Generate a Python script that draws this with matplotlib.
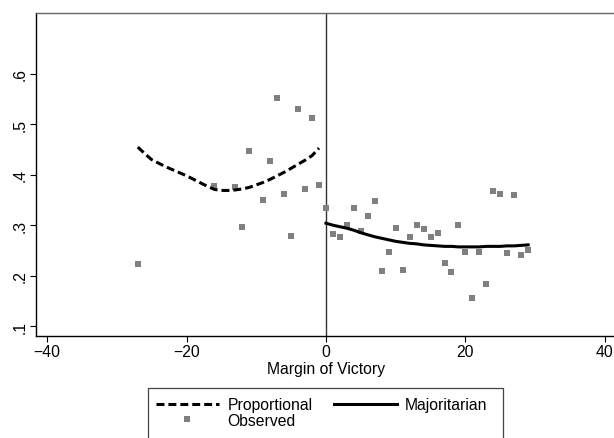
import numpy as np
import matplotlib.pyplot as plt
from matplotlib.patches import Rectangle

# observed bin means
obs_x = [-27, -16, -13, -12, -11, -9, -8, -7, -6, -5, -4, -3, -2, -1,
         0, 1, 2, 3, 4, 5, 6, 7, 8, 9, 10, 11, 12, 13, 14, 15, 16, 17, 18, 19,
         20, 21, 22, 23, 24, 25, 26, 27, 28, 29]
obs_y = [0.224, 0.378, 0.376, 0.296, 0.447, 0.350, 0.427, 0.553, 0.361, 0.278,
         0.530, 0.371, 0.513, 0.379,
         0.335, 0.282, 0.276, 0.300, 0.335, 0.288, 0.318, 0.349, 0.210, 0.246,
         0.294, 0.212, 0.276, 0.300, 0.292, 0.276, 0.284, 0.226, 0.207, 0.300,
         0.246, 0.155, 0.246, 0.183, 0.367, 0.361, 0.244, 0.359, 0.240, 0.251]

# fitted curves
prop_x = list(range(-27, 0))
prop_y = [0.455, 0.442, 0.430, 0.423, 0.416, 0.410, 0.404, 0.398, 0.391, 0.384,
          0.377, 0.371, 0.369, 0.369, 0.370, 0.372, 0.375, 0.380, 0.385, 0.391,
          0.398, 0.405, 0.413, 0.421, 0.429, 0.438, 0.453]
maj_x = list(range(0, 30))
maj_y = [0.304, 0.300, 0.297, 0.294, 0.290, 0.285, 0.281, 0.277, 0.274, 0.271,
         0.268, 0.266, 0.264, 0.263, 0.261, 0.260, 0.259, 0.258, 0.258, 0.257,
         0.257, 0.257, 0.257, 0.258, 0.258, 0.258, 0.259, 0.259, 0.260, 0.261]

xticks = [-40, -20, 0, 20, 40]
yticks = [0.1, 0.2, 0.3, 0.4, 0.5, 0.6]
ytick_labels = ['.1', '.2', '.3', '.4', '.5', '.6']

plt.rcParams['font.family'] = ['Liberation Sans', 'DejaVu Sans']
fs = 11.3

fig = plt.figure(figsize=(6.14, 4.39), dpi=100)
ax = fig.add_axes([36 / 614, 102 / 439, 580 / 614, 323 / 439])

ax.axvline(0, color='#333333', linewidth=1.0, zorder=1)
obs, = ax.plot(obs_x, obs_y, linestyle='none', marker='s', markersize=4.3,
               color='#808080', markeredgewidth=0, zorder=2)
prop, = ax.plot(prop_x, prop_y, color='black', linewidth=2.2, dashes=(2.6, 1.3), zorder=3)
maj, = ax.plot(maj_x, maj_y, color='black', linewidth=2.2, zorder=3)

ax.set_xlim(-41.6, 41.6)
ax.set_ylim(0.0802, 0.721)
ax.set_xticks(xticks)
ax.set_xticklabels(['\u221240', '\u221220', '0', '20', '40'])
ax.set_yticks(yticks)
ax.set_yticklabels(ytick_labels, rotation=90, va='center')
ax.tick_params(direction='out', length=4, width=0.8, labelsize=fs, pad=2)
ax.set_xlabel('Margin of Victory', fontsize=fs, labelpad=1)

for side in ['left', 'bottom']:
    ax.spines[side].set_color('black')
    ax.spines[side].set_linewidth(1.0)
ax.spines['top'].set_color('#666666')
ax.spines['top'].set_linewidth(1.0)
ax.spines['right'].set_visible(False)

# legend box runs off the bottom of the figure
fig.patches.append(Rectangle((148 / 614, -0.1), 355 / 614, 0.1 + (439 - 389) / 439,
                             transform=fig.transFigure, fill=False,
                             edgecolor='#444444', linewidth=0.9))
fig.legend([prop, obs, maj], ['Proportional', 'Observed', 'Majoritarian'],
           ncol=2, loc='upper left', bbox_to_anchor=(156 / 614, 1 - 398 / 439),
           frameon=False, fontsize=fs, borderpad=0, borderaxespad=0,
           handlelength=4.0, handletextpad=0.55, columnspacing=1.35,
           labelspacing=0.05, numpoints=1)

fig.savefig('out.png', dpi=100)
